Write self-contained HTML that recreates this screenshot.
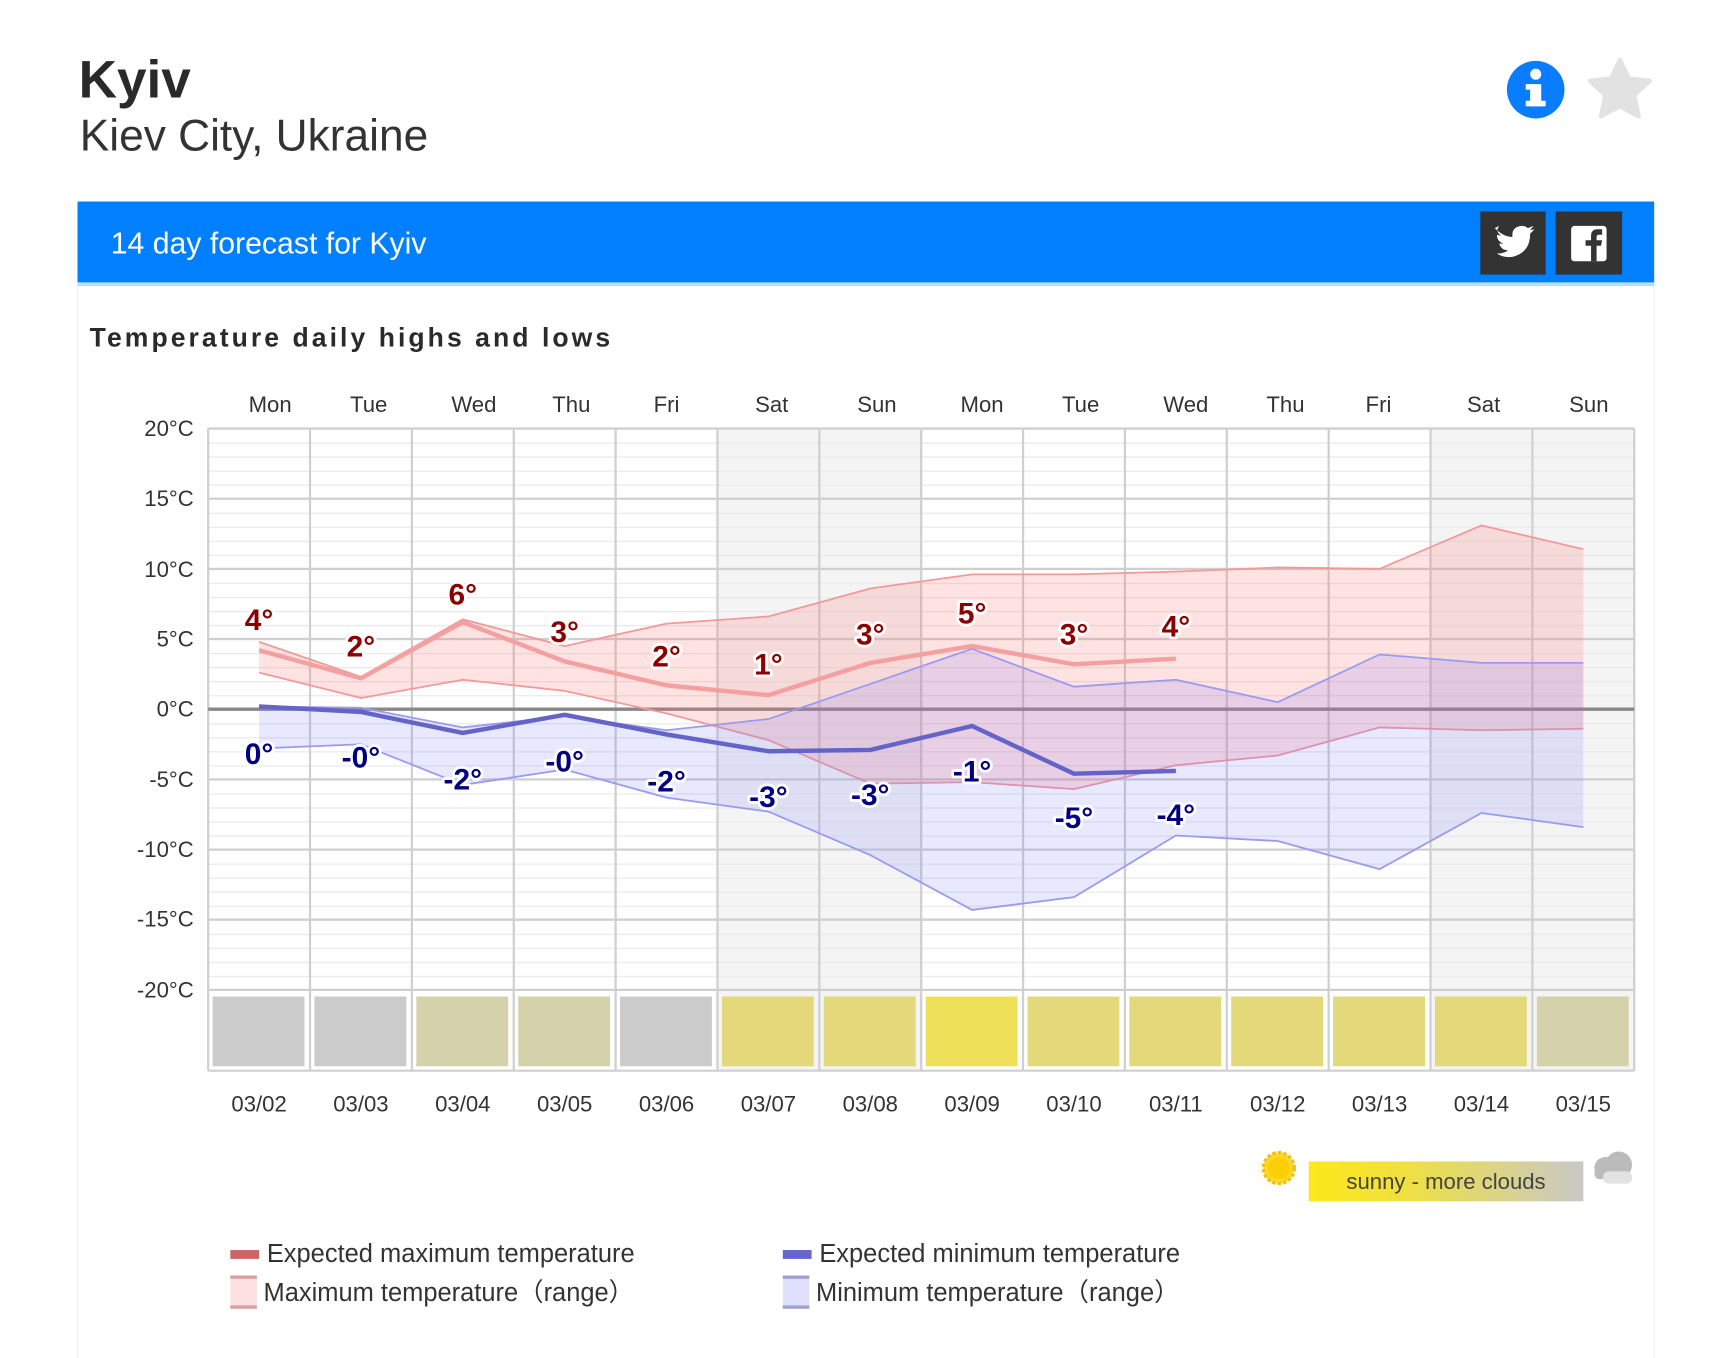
<!DOCTYPE html>
<html><head><meta charset="utf-8"><style>
html,body{margin:0;padding:0;background:#fff;}
svg{display:block;font-family:"Liberation Sans",sans-serif;}
</style></head><body>
<svg width="1735" height="1358" viewBox="0 0 1567 1226.5" preserveAspectRatio="none" xmlns="http://www.w3.org/2000/svg">
<defs>
<pattern id="mg" x="0" y="387" width="1288" height="12.675" patternUnits="userSpaceOnUse">
<line x1="0" y1="0.5" x2="1288" y2="0.5" stroke="#e9e9e9" stroke-width="1.2"/>
</pattern>
<linearGradient id="lg" x1="0" x2="1" y1="0" y2="0">
<stop offset="0" stop-color="#fde81a"/><stop offset="0.35" stop-color="#f0e040"/><stop offset="1" stop-color="#c8c8c8"/>
</linearGradient>
</defs>
<rect width="1567" height="1227" fill="#fff"/>
<text x="71" y="88" font-size="48" font-weight="bold" fill="#2a2a2a">Kyiv</text>
<text x="72" y="136" font-size="40" fill="#333">Kiev City, Ukraine</text>
<circle cx="1387" cy="81" r="26" fill="#0a7cff"/>
<rect x="1382" y="76" width="10" height="20" fill="#fff"/>
<rect x="1378" y="76" width="8" height="5" fill="#fff"/>
<rect x="1378" y="91" width="18" height="5" fill="#fff"/>
<circle cx="1387" cy="67" r="5" fill="#fff"/>
<polygon points="1463,54 1471,71 1490,73 1476,86 1480,105 1463,96 1446,105 1450,86 1436,73 1455,71" fill="#e2e2e2" stroke="#e2e2e2" stroke-width="4" stroke-linejoin="round"/>
<rect x="70" y="258" width="1424" height="970" fill="#fff" stroke="#f2f2f2"/>
<rect x="70" y="182" width="1424" height="76" fill="#0080ff"/>
<rect x="70" y="255" width="1424" height="3" fill="#bcdfff"/>
<text x="100" y="229" font-size="27.3" fill="#fff">14 day forecast for Kyiv</text>
<rect x="1337" y="191" width="59" height="57" fill="#333"/>
<path d="M1350 206 q8 8 16 8 q-1 -9 8 -10 q4 0 6 2 l5 -2 l-3 4 l4 -1 l-4 4 q0 17 -16 21 q-8 1 -14 -3 q7 0 10 -3 q-6 0 -8 -6 l4 0 q-6 -2 -6 -8 l4 1 q-6 -4 -2 -9z" fill="#fff"/>
<rect x="1405" y="191" width="60" height="57" fill="#333"/>
<rect x="1419" y="204" width="32" height="32" rx="3" fill="#fff"/>
<path d="M1437 236 v-14 h-5 v-5 h5 v-4 q0 -6 6 -6 h4 v5 h-3 q-2 0 -2 2 v3 h5 l-1 5 h-4 v14z" fill="#333"/>
<text x="81" y="313" font-size="24" font-weight="bold" fill="#2a2a2a" letter-spacing="2.75">Temperature daily highs and lows</text>
<rect x="648" y="387" width="184" height="580" fill="#f4f4f4"/>
<rect x="1292" y="387" width="184" height="580" fill="#f4f4f4"/>
<rect x="188" y="387" width="1288" height="507" fill="url(#mg)"/>
<g stroke="#cfcfcf" stroke-width="2">
<line x1="188" y1="387" x2="1476" y2="387"/><line x1="188" y1="450.4" x2="1476" y2="450.4"/>
<line x1="188" y1="513.8" x2="1476" y2="513.8"/><line x1="188" y1="577.1" x2="1476" y2="577.1"/>
<line x1="188" y1="703.9" x2="1476" y2="703.9"/><line x1="188" y1="767.3" x2="1476" y2="767.3"/>
<line x1="188" y1="830.6" x2="1476" y2="830.6"/><line x1="188" y1="894" x2="1476" y2="894"/>
<line x1="188" y1="967" x2="1476" y2="967"/>
<line x1="188" y1="387" x2="188" y2="967"/><line x1="280" y1="387" x2="280" y2="967"/>
<line x1="372" y1="387" x2="372" y2="967"/><line x1="464" y1="387" x2="464" y2="967"/>
<line x1="556" y1="387" x2="556" y2="967"/><line x1="648" y1="387" x2="648" y2="967"/>
<line x1="740" y1="387" x2="740" y2="967"/><line x1="832" y1="387" x2="832" y2="967"/>
<line x1="924" y1="387" x2="924" y2="967"/><line x1="1016" y1="387" x2="1016" y2="967"/>
<line x1="1108" y1="387" x2="1108" y2="967"/><line x1="1200" y1="387" x2="1200" y2="967"/>
<line x1="1292" y1="387" x2="1292" y2="967"/><line x1="1384" y1="387" x2="1384" y2="967"/>
<line x1="1476" y1="387" x2="1476" y2="967"/>
</g>
<g>
<rect x="192" y="900" width="83" height="63" fill="#cbcbcb"/>
<rect x="284" y="900" width="83" height="63" fill="#cbcbcb"/>
<rect x="376" y="900" width="83" height="63" fill="#d4d2aa"/>
<rect x="468" y="900" width="83" height="63" fill="#d4d2aa"/>
<rect x="560" y="900" width="83" height="63" fill="#cbcbcb"/>
<rect x="652" y="900" width="83" height="63" fill="#e3d87a"/>
<rect x="744" y="900" width="83" height="63" fill="#e3d87a"/>
<rect x="836" y="900" width="83" height="63" fill="#efe05a"/>
<rect x="928" y="900" width="83" height="63" fill="#e3d87a"/>
<rect x="1020" y="900" width="83" height="63" fill="#e3d87a"/>
<rect x="1112" y="900" width="83" height="63" fill="#e3d87a"/>
<rect x="1204" y="900" width="83" height="63" fill="#e3d87a"/>
<rect x="1296" y="900" width="83" height="63" fill="#e3d87a"/>
<rect x="1388" y="900" width="83" height="63" fill="#d4d2aa"/>
</g>
<line x1="188" y1="640.5" x2="1476" y2="640.5" stroke="#888" stroke-width="3"/>
<polygon points="234,579.7 326,611.3 418,559.4 510,583.5 602,563.2 694,556.8 786,531.5 878,518.8 970,518.8 1062,516.3 1154,512.5 1246,513.8 1338,474.5 1430,496 1430,658.2 1338,659.5 1246,657 1154,682.3 1062,691.2 970,712.7 878,706.4 786,707.7 694,668.4 602,644.3 510,624 418,613.9 326,630.4 234,607.5" fill="rgba(255,110,110,0.2)"/>
<polyline points="234,579.7 326,611.3 418,559.4 510,583.5 602,563.2 694,556.8 786,531.5 878,518.8 970,518.8 1062,516.3 1154,512.5 1246,513.8 1338,474.5 1430,496" fill="none" stroke="#f09a9a" stroke-width="1.6"/>
<polyline points="234,607.5 326,630.4 418,613.9 510,624 602,644.3 694,668.4 786,707.7 878,706.4 970,712.7 1062,691.2 1154,682.3 1246,657 1338,659.5 1430,658.2" fill="none" stroke="#f09a9a" stroke-width="1.6"/>
<polygon points="234,638 326,639.2 418,657 510,646.8 602,659.5 694,649.4 786,617.7 878,586 970,620.2 1062,613.9 1154,634.2 1246,591.1 1338,598.7 1430,598.7 1430,747 1338,734.3 1246,785 1154,759.6 1062,754.6 970,810.3 878,821.8 786,772.3 694,733 602,720.4 510,695 418,708.9 326,672.2 234,676" fill="rgba(110,110,255,0.16)"/>
<polyline points="234,638 326,639.2 418,657 510,646.8 602,659.5 694,649.4 786,617.7 878,586 970,620.2 1062,613.9 1154,634.2 1246,591.1 1338,598.7 1430,598.7" fill="none" stroke="#9a9af0" stroke-width="1.6"/>
<polyline points="234,676 326,672.2 418,708.9 510,695 602,720.4 694,733 786,772.3 878,821.8 970,810.3 1062,754.6 1154,759.6 1246,785 1338,734.3 1430,747" fill="none" stroke="#9a9af0" stroke-width="1.6"/>
<polyline points="234,587.3 326,612.6 418,561.9 510,597.4 602,619 694,627.8 786,598.7 878,583.5 970,600 1062,594.9" fill="none" stroke="#f4a0a0" stroke-width="4" stroke-linejoin="round"/>
<polyline points="234,638 326,643 418,662 510,645.6 602,663.3 694,678.5 786,677.3 878,655.7 970,698.8 1062,696.3" fill="none" stroke="#6464c8" stroke-width="4" stroke-linejoin="round"/>
<g font-size="27" font-weight="bold" text-anchor="middle" stroke="#fff" stroke-width="5" paint-order="stroke" stroke-linejoin="round">
<g fill="#8b0000">
<text x="234" y="569">4°</text><text x="326" y="593">2°</text><text x="418" y="546">6°</text>
<text x="510" y="580">3°</text><text x="602" y="602">2°</text><text x="694" y="609">1°</text>
<text x="786" y="582">3°</text><text x="878" y="563">5°</text><text x="970" y="582">3°</text>
<text x="1062" y="575">4°</text>
</g>
<g fill="#000080">
<text x="234" y="690">0°</text><text x="326" y="693">-0°</text><text x="418" y="713">-2°</text>
<text x="510" y="697">-0°</text><text x="602" y="715">-2°</text><text x="694" y="729">-3°</text>
<text x="786" y="727">-3°</text><text x="878" y="706">-1°</text><text x="970" y="748">-5°</text>
<text x="1062" y="745">-4°</text>
</g>
</g>
<g font-size="20" fill="#333" text-anchor="end">
<text x="175" y="394">20°C</text><text x="175" y="457">15°C</text><text x="175" y="521">10°C</text>
<text x="175" y="584">5°C</text><text x="175" y="647">0°C</text><text x="175" y="711">-5°C</text>
<text x="175" y="774">-10°C</text><text x="175" y="837">-15°C</text><text x="175" y="901">-20°C</text>
</g>
<g font-size="20" fill="#333" text-anchor="middle">
<text x="244" y="372">Mon</text><text x="333" y="372">Tue</text><text x="428" y="372">Wed</text>
<text x="516" y="372">Thu</text><text x="602" y="372">Fri</text><text x="697" y="372">Sat</text>
<text x="792" y="372">Sun</text><text x="887" y="372">Mon</text><text x="976" y="372">Tue</text>
<text x="1071" y="372">Wed</text><text x="1161" y="372">Thu</text><text x="1245" y="372">Fri</text>
<text x="1340" y="372">Sat</text><text x="1435" y="372">Sun</text>
<text x="234" y="1004">03/02</text><text x="326" y="1004">03/03</text><text x="418" y="1004">03/04</text>
<text x="510" y="1004">03/05</text><text x="602" y="1004">03/06</text><text x="694" y="1004">03/07</text>
<text x="786" y="1004">03/08</text><text x="878" y="1004">03/09</text><text x="970" y="1004">03/10</text>
<text x="1062" y="1004">03/11</text><text x="1154" y="1004">03/12</text><text x="1246" y="1004">03/13</text>
<text x="1338" y="1004">03/14</text><text x="1430" y="1004">03/15</text>
</g>
<g>
<circle cx="1155" cy="1055" r="14" fill="#fdd835" stroke="#f5c000" stroke-width="3" stroke-dasharray="3 2"/>
<circle cx="1155" cy="1055" r="10" fill="#fcd000"/>
<rect x="1182" y="1049" width="248" height="36" fill="url(#lg)"/>
<text x="1306" y="1074" font-size="20" fill="#444" text-anchor="middle">sunny - more clouds</text>
<circle cx="1450" cy="1055" r="10" fill="#bbb"/><circle cx="1462" cy="1052" r="12" fill="#bbb"/>
<rect x="1440" y="1055" width="32" height="10" rx="5" fill="#bbb"/>
<rect x="1448" y="1058" width="26" height="11" rx="5" fill="#e2e2e2"/>
</g>
<g font-size="23" fill="#333">
<rect x="208" y="1129" width="26" height="8" fill="#cc6666"/>
<text x="241" y="1140">Expected maximum temperature</text>
<rect x="208" y="1152" width="24" height="30" fill="#fde0e0"/>
<rect x="208" y="1152" width="24" height="3" fill="#d8a0a0"/><rect x="208" y="1179" width="24" height="3" fill="#d8a0a0"/>
<text x="238" y="1175">Maximum temperature（range）</text>
<rect x="707" y="1129" width="26" height="8" fill="#6666cc"/>
<text x="740" y="1140">Expected minimum temperature</text>
<rect x="707" y="1152" width="24" height="30" fill="#dfe0fb"/>
<rect x="707" y="1152" width="24" height="3" fill="#a0a0d0"/><rect x="707" y="1179" width="24" height="3" fill="#a0a0d0"/>
<text x="737" y="1175">Minimum temperature（range）</text>
</g>
</svg>
</body></html>
